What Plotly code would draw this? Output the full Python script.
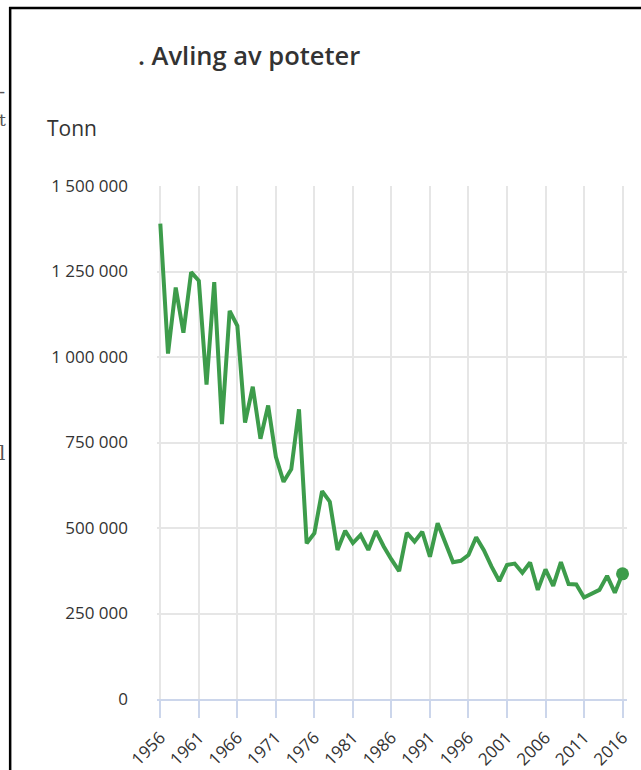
import plotly.graph_objects as go

years = list(range(1956, 2017))
tonn = [
    1390000, 1010000, 1203000, 1071000, 1248000, 1223000, 919000, 1219000, 804000, 1135000,
    1091000, 808000, 913000, 761000, 858000, 708000, 635000, 672000, 847000, 455000,
    485000, 608000, 577000, 436000, 492000, 456000, 480000, 436000, 491000, 446000,
    408000, 374000, 486000, 460000, 489000, 416000, 514000, 455000, 400000, 404000,
    421000, 473000, 435000, 387000, 345000, 392000, 396000, 369000, 399000, 319000,
    379000, 331000, 400000, 336000, 335000, 297000, 307000, 319000, 360000, 311000,
    366000,
]
y_ticks = [0, 250000, 500000, 750000, 1000000, 1250000, 1500000]
title_text = ". Avling av poteter"
unit_text = "Tonn"

W, H = 641, 770
L, R, T, B = 157, 627.5, 186, 699


def px(x):
    return (x - L) / (R - L)


def py(y):
    return (B - y) / (B - T)


GREEN = "#3d9c4b"

fig = go.Figure()
fig.add_trace(go.Scatter(
    x=years, y=tonn, mode="lines",
    line=dict(color=GREEN, width=4, shape="linear"),
    hoverinfo="x+y", showlegend=False,
))
fig.add_trace(go.Scatter(
    x=[years[-1]], y=[tonn[-1]], mode="markers",
    marker=dict(color=GREEN, size=13),
    showlegend=False, hoverinfo="skip", cliponaxis=False,
))

fig.update_layout(
    width=W, height=H,
    margin=dict(l=L, r=W - R, t=T, b=H - B, pad=0, autoexpand=False),
    paper_bgcolor="white", plot_bgcolor="white",
    separators=", ",
    font=dict(family="Open Sans", color="#333333"),
    xaxis=dict(
        range=[1955.57, 2016.58],
        tick0=1956, dtick=5, tickmode="linear",
        showgrid=True, gridcolor="#e6e6e6", gridwidth=2,
        showline=True, linecolor="#ccd6eb", linewidth=2,
        ticks="outside", ticklen=17, tickwidth=2, tickcolor="#ccd6eb",
        tickangle=-45, tickfont=dict(size=17, color="#333333"),
        ticklabelstandoff=3,
        zeroline=False, fixedrange=True, automargin=False,
    ),
    yaxis=dict(
        range=[0, 1500000],
        tickvals=y_ticks, tickformat=",d",
        showgrid=True, gridcolor="#e6e6e6", gridwidth=2,
        zeroline=False, showline=False,
        ticks="", ticklabelstandoff=28,
        tickfont=dict(size=17, color="#333333"),
        fixedrange=True, automargin=False,
    ),
    annotations=[
        dict(text=title_text, xref="paper", yref="paper", x=px(136), y=py(55),
             xanchor="left", yanchor="middle", showarrow=False,
             font=dict(family="Open Sans", size=25.5, color="#333333", weight=600)),
        dict(text=unit_text, xref="paper", yref="paper", x=px(45), y=py(128),
             xanchor="left", yanchor="middle", showarrow=False,
             font=dict(family="Open Sans", size=21, color="#333333")),
        dict(text="t", xref="paper", yref="paper", x=px(8), y=py(120),
             xanchor="right", yanchor="middle", showarrow=False,
             font=dict(family="DejaVu Serif", size=17, color="#555555")),
        dict(text="-", xref="paper", yref="paper", x=px(7), y=py(92),
             xanchor="right", yanchor="middle", showarrow=False,
             font=dict(family="DejaVu Serif", size=18, color="#555555")),
        dict(text="l", xref="paper", yref="paper", x=px(7), y=py(453),
             xanchor="right", yanchor="middle", showarrow=False,
             font=dict(family="DejaVu Serif", size=20, color="#555555")),
    ],
    shapes=[
        dict(type="line", xref="paper", yref="paper",
             x0=px(10), x1=px(10), y0=py(7), y1=py(772),
             line=dict(color="black", width=2.5)),
        dict(type="line", xref="paper", yref="paper",
             x0=px(9), x1=px(645), y0=py(8), y1=py(8),
             line=dict(color="black", width=2.5)),
    ],
)

fig.write_html(
    "out.html",
    config={"displayModeBar": False},
    post_script="document.body.style.margin='0';document.body.style.overflow='hidden';",
)
